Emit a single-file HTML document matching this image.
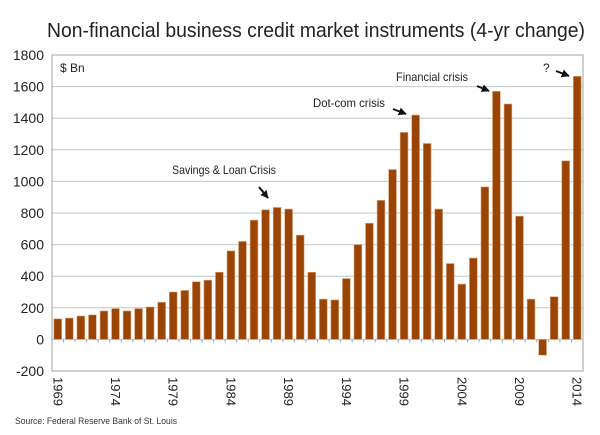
<!DOCTYPE html>
<html><head><meta charset="utf-8"><style>
body{margin:0;background:#fff}
svg{display:block;font-family:"Liberation Sans",sans-serif}
</style></head><body>
<svg id="chart" width="600" height="435" viewBox="0 0 600 435">
<defs><marker id="ah" viewBox="0 0 10 10" refX="9" refY="5" markerWidth="4" markerHeight="4" orient="auto"><path d="M0,0 L10,5 L0,10 z" fill="#111"/></marker></defs>
<text x="47" y="37" font-size="20" fill="#222" textLength="538" lengthAdjust="spacingAndGlyphs">Non-financial business credit market instruments (4-yr change)</text>
<g id="grid"></g>
<g id="bars"></g>
<g id="ylab"></g>
<g id="xlab"></g>
<rect x="52" y="55" width="531" height="316" fill="none" stroke="#a0a0a0" stroke-width="1"/>
<text x="60" y="72" font-size="12" fill="#222">$ Bn</text>
<text x="172" y="174" font-size="12" fill="#222" textLength="104" lengthAdjust="spacingAndGlyphs">Savings &amp; Loan Crisis</text>
<line x1="259" y1="187" x2="268" y2="198" stroke="#111" stroke-width="2" marker-end="url(#ah)"/>
<text x="313" y="107" font-size="12" fill="#222" textLength="72" lengthAdjust="spacingAndGlyphs">Dot-com crisis</text>
<line x1="393" y1="109" x2="406" y2="114" stroke="#111" stroke-width="2" marker-end="url(#ah)"/>
<text x="396" y="81" font-size="12" fill="#222" textLength="72" lengthAdjust="spacingAndGlyphs">Financial crisis</text>
<line x1="477" y1="86" x2="489" y2="91" stroke="#111" stroke-width="2" marker-end="url(#ah)"/>
<text x="543" y="72" font-size="12" fill="#222">?</text>
<line x1="556" y1="71" x2="569" y2="76" stroke="#111" stroke-width="2" marker-end="url(#ah)"/>
<text x="15" y="424" font-size="9.5" fill="#333" textLength="162" lengthAdjust="spacingAndGlyphs">Source: Federal Reserve Bank of St. Louis</text>
</svg>
<script>
const years=[1969,1970,1971,1972,1973,1974,1975,1976,1977,1978,1979,1980,1981,1982,1983,1984,1985,1986,1987,1988,1989,1990,1991,1992,1993,1994,1995,1996,1997,1998,1999,2000,2001,2002,2003,2004,2005,2006,2007,2008,2009,2010,2011,2012,2013,2014];
const values=[130,135,148,155,180,195,180,195,205,235,300,310,365,375,425,560,620,755,820,835,825,660,425,255,250,385,600,735,880,1075,1310,1420,1240,825,480,350,515,965,1570,1490,780,255,-100,270,1130,1665];
const yTicks=[-200,0,200,400,600,800,1000,1200,1400,1600,1800];
const xTickLabels=["1969","1974","1979","1984","1989","1994","1999","2004","2009","2014"];
const NS="http://www.w3.org/2000/svg";
const L=52,R=583,T=55,B=371,ymin=-200,ymax=1800;
const slot=(R-L)/years.length;
const y=v=>B-(v-ymin)/(ymax-ymin)*(B-T);
const xc=i=>L+slot*(i+0.5);
function mk(t,a){const e=document.createElementNS(NS,t);for(const k in a)e.setAttribute(k,a[k]);return e;}
const g=document.getElementById('grid'),yl=document.getElementById('ylab');
yTicks.forEach(v=>{
 const ln=mk('line',{x1:L,x2:R,y1:y(v),y2:y(v),stroke:'#c4c4c4','stroke-width':1});
 
 
 g.appendChild(ln);
 const t=mk('text',{x:44,y:y(v)+5,'text-anchor':'end','font-size':14,fill:'#222'});
 t.textContent=v;
 
 
 yl.appendChild(t);
});
const bg=document.getElementById('bars');
values.forEach((v,i)=>{
 const y0=y(0),y1=y(v);
 const r=mk('rect',{x:xc(i)-3.9,y:Math.min(y0,y1),width:7.8,height:Math.abs(y1-y0),fill:'#9a4506',stroke:'#d9a37a','stroke-width':0.6});
 
 
 bg.appendChild(r);
});
const xl=document.getElementById('xlab');
years.forEach((yr,i)=>{
 const tk=mk('line',{x1:L+slot*i,x2:L+slot*i,y1:y(0),y2:y(0)+3,stroke:'#a0a0a0'});
 
 
 xl.appendChild(tk);
 if(xTickLabels.includes(String(yr))){
  const t=mk('text',{x:0,y:0,'font-size':13,fill:'#222',transform:`translate(${xc(i)-4.5},377) rotate(90)`});
  t.textContent=yr;
  
  
  xl.appendChild(t);
 }
});
</script>
</body></html>
